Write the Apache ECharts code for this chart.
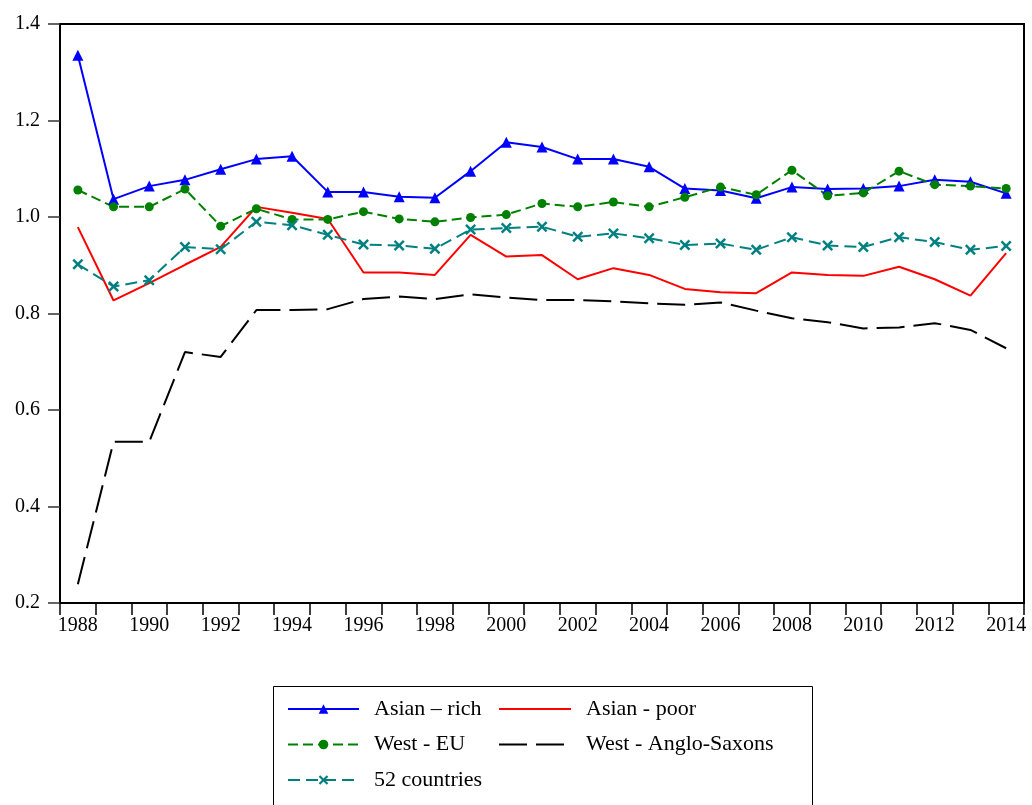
<!DOCTYPE html>
<html>
<head>
<meta charset="utf-8">
<script src="https://cdn.jsdelivr.net/npm/echarts@6/dist/echarts.min.js"></script>
<style>
  html, body { margin: 0; padding: 0; background: #fff; }
  #chart { width: 1032px; height: 805px; }
</style>
</head>
<body>
<div id="chart"></div>
<script>
// Years on the horizontal axis
const years = ['1988','1989','1990','1991','1992','1993','1994','1995','1996','1997',
  '1998','1999','2000','2001','2002','2003','2004','2005','2006','2007',
  '2008','2009','2010','2011','2012','2013','2014'];

// Index values per country group
const asianRich = [1.335,1.037,1.064,1.077,1.099,1.120,1.126,1.052,1.052,1.042,
  1.040,1.095,1.155,1.145,1.120,1.120,1.104,1.059,1.055,1.039,
  1.062,1.058,1.059,1.064,1.077,1.073,1.049];
const asianPoor = [0.979,0.827,0.863,0.901,0.938,1.021,1.009,0.996,0.885,0.885,
  0.880,0.963,0.918,0.921,0.871,0.894,0.880,0.851,0.844,0.842,
  0.885,0.880,0.878,0.897,0.871,0.837,0.925];
const westEU = [1.056,1.021,1.021,1.058,0.981,1.017,0.995,0.995,1.011,0.996,
  0.990,0.999,1.005,1.028,1.021,1.031,1.021,1.041,1.062,1.046,
  1.097,1.044,1.050,1.095,1.067,1.064,1.059];
const westAnglo = [0.239,0.534,0.534,0.720,0.710,0.807,0.807,0.809,0.830,0.835,
  0.830,0.840,0.833,0.828,0.828,0.825,0.821,0.818,0.823,0.806,
  0.790,0.782,0.769,0.771,0.780,0.766,0.728];
const countries52 = [0.902,0.856,0.869,0.938,0.933,0.990,0.983,0.963,0.943,0.941,
  0.934,0.974,0.977,0.980,0.959,0.966,0.956,0.942,0.945,0.932,
  0.958,0.941,0.938,0.958,0.948,0.932,0.940];

const FONT = "'Palatino Linotype','Book Antiqua',Palatino,'Liberation Serif',serif";
const CROSS = 'path://M0,1.6L1.6,0L5,3.4L8.4,0L10,1.6L6.6,5L10,8.4L8.4,10L5,6.6L1.6,10L0,8.4L3.4,5Z';

const chart = echarts.init(document.getElementById('chart'), null, { renderer: 'canvas' });

const legendText = { fontFamily: FONT, fontSize: 22, color: '#000', lineHeight: 22, padding: [0, 0, 0, 10] };

chart.setOption({
  animation: false,
  backgroundColor: '#fff',
  grid: {
    left: 60, right: 8, top: 24, bottom: 202,
    show: true, borderColor: '#000', borderWidth: 2, backgroundColor: 'transparent'
  },
  xAxis: {
    type: 'category',
    data: years,
    boundaryGap: true,
    axisLine: { lineStyle: { color: '#000', width: 2 } },
    axisTick: { show: true, interval: 0, length: 12, alignWithLabel: false, lineStyle: { color: '#000', width: 1.5 } },
    axisLabel: { interval: 1, margin: 13, fontFamily: FONT, fontSize: 20, color: '#000' },
    splitLine: { show: false }
  },
  yAxis: {
    type: 'value',
    min: 0.2, max: 1.4, interval: 0.2,
    axisLine: { show: true, lineStyle: { color: '#000', width: 2 } },
    axisTick: { show: true, length: 12, lineStyle: { color: '#333', width: 1.5 } },
    axisLabel: { margin: 20, fontFamily: FONT, fontSize: 20, color: '#000',
      formatter: v => v.toFixed(1) },
    splitLine: { show: false }
  },
  legend: [
    {
      orient: 'vertical', left: 287, top: 698, padding: 0,
      itemWidth: 71, itemHeight: 12, itemGap: 13.5,
      textStyle: legendText,
      data: ['Asian – rich', 'West - EU', '52 countries']
    },
    {
      orient: 'vertical', left: 498, top: 698, padding: 0,
      itemWidth: 72, itemHeight: 12, itemGap: 13.5,
      textStyle: legendText,
      // plain-line series: keep the line, hide the marker
      data: [
        { name: 'Asian - poor', itemStyle: { opacity: 0 } },
        { name: 'West - Anglo-Saxons', itemStyle: { opacity: 0 } }
      ]
    }
  ],
  graphic: [{
    type: 'rect',
    shape: { x: 273.5, y: 686.5, width: 539, height: 140 },
    style: { fill: 'none', stroke: '#000', lineWidth: 1 },
    silent: true
  }],
  series: [
    {
      name: 'Asian – rich', type: 'line', data: asianRich,
      symbol: 'triangle', symbolSize: 11, showAllSymbol: true,
      lineStyle: { color: '#0000ff', width: 2 },
      itemStyle: { color: '#0000ff' }
    },
    {
      name: 'Asian - poor', type: 'line', data: asianPoor,
      symbol: 'none',
      lineStyle: { color: '#ff0000', width: 2 },
      itemStyle: { color: '#ff0000' }
    },
    {
      name: 'West - EU', type: 'line', data: westEU,
      symbol: 'circle', symbolSize: 9, showAllSymbol: true,
      lineStyle: { color: '#008000', width: 2, type: [10, 5] },
      itemStyle: { color: '#008000' }
    },
    {
      name: 'West - Anglo-Saxons', type: 'line', data: westAnglo,
      symbol: 'none',
      lineStyle: { color: '#000', width: 2, type: [28, 9] },
      itemStyle: { color: '#000' }
    },
    {
      name: '52 countries', type: 'line', data: countries52,
      symbol: CROSS, symbolSize: 11, showAllSymbol: true,
      lineStyle: { color: '#008080', width: 2, type: [12, 6] },
      itemStyle: { color: '#008080' }
    }
  ]
});
</script>
</body>
</html>
